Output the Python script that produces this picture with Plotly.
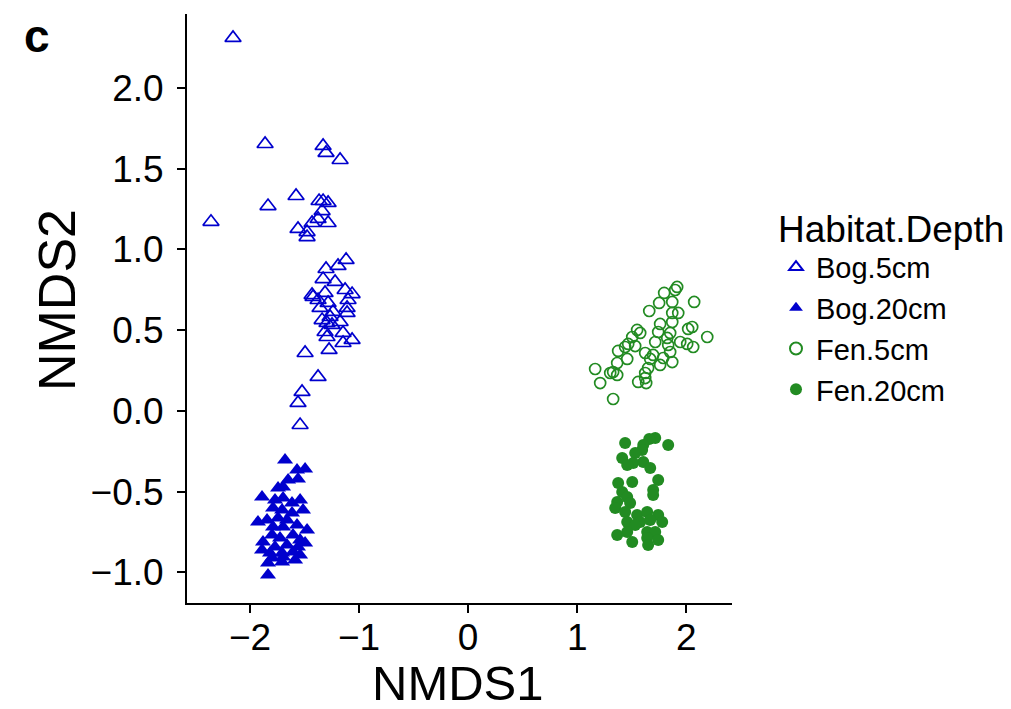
import plotly.graph_objects as go

# Bog.5cm
bog5_x = [-2.156, -2.358, -1.862, -1.835, -1.330, -1.303, -1.174, -1.578, -1.367, -1.330, -1.284, -1.339,
          -1.376, -1.284, -1.431, -1.560, -1.477, -1.477, -1.119, -1.193, -1.303, -1.330, -1.312, -1.422,
          -1.431, -1.064, -1.284, -1.358, -1.110, -1.110, -1.266, -1.339, -1.174, -1.294, -1.248, -1.312,
          -1.147, -1.064, -1.147, -1.294, -1.275, -1.495, -1.376, -1.523, -1.560, -1.541,
          -1.220, -1.376, -1.128, -1.239, -1.101]
bog5_y = [2.310, 1.171, 1.653, 1.269, 1.641, 1.598, 1.554, 1.331, 1.300, 1.300, 1.288, 1.238,
          1.189, 1.164, 1.164, 1.127, 1.108, 1.077, 0.935, 0.898, 0.879, 0.817, 0.731, 0.706,
          0.718, 0.724, 0.669, 0.638, 0.638, 0.607, 0.582, 0.563, 0.551, 0.545, 0.533, 0.489,
          0.483, 0.440, 0.421, 0.458, 0.378, 0.359, 0.211, 0.118, 0.050, -0.087,
          0.799, 0.687, 0.749, 0.613, 0.687]

# Bog.20cm
bog20_x = [-1.679, -1.569, -1.495, -1.651, -1.560, -1.743, -1.697, -1.890, -1.771, -1.697, -1.541, -1.615,
           -1.789, -1.706, -1.514, -1.615, -1.844, -1.927, -1.743, -1.661, -1.569, -1.789, -1.697, -1.477,
           -1.606, -1.798, -1.881, -1.725, -1.541, -1.890, -1.771, -1.661, -1.560, -1.495, -1.817, -1.706,
           -1.606, -1.798, -1.697, -1.541, -1.587, -1.835, -1.706, -1.835]
bog20_y = [-0.303, -0.365, -0.359, -0.427, -0.421, -0.477, -0.471, -0.533, -0.551, -0.539, -0.551, -0.570,
           -0.601, -0.613, -0.613, -0.632, -0.675, -0.687, -0.663, -0.675, -0.706, -0.718, -0.718, -0.737,
           -0.768, -0.768, -0.811, -0.786, -0.799, -0.861, -0.842, -0.830, -0.842, -0.817, -0.879, -0.879,
           -0.873, -0.910, -0.904, -0.892, -0.923, -0.941, -0.935, -1.015]

# Fen.5cm
fen5_x = [1.917, 1.899, 1.798, 1.872, 1.752, 2.073, 1.661, 1.872, 1.927, 1.872, 1.761, 2.055,
          2.018, 1.550, 1.578, 1.743, 1.853, 2.193, 1.505, 1.826, 1.945, 1.716, 2.009, 1.468,
          1.532, 2.064, 1.835, 1.440, 1.376, 1.624, 1.853, 1.697, 1.459, 1.670, 1.789, 1.367,
          1.872, 1.761, 1.651, 1.165, 1.330, 1.303, 1.624, 1.367, 1.624, 1.560, 1.633, 1.211, 1.330]
fen5_y = [0.768, 0.749, 0.731, 0.675, 0.669, 0.675, 0.619, 0.607, 0.607, 0.551, 0.539, 0.520,
          0.508, 0.502, 0.483, 0.489, 0.483, 0.458, 0.458, 0.452, 0.427, 0.427, 0.415, 0.415,
          0.402, 0.396, 0.409, 0.396, 0.372, 0.359, 0.365, 0.347, 0.322, 0.322, 0.328, 0.297,
          0.303, 0.285, 0.266, 0.260, 0.241, 0.235, 0.235, 0.223, 0.204, 0.180, 0.173, 0.173, 0.074]

# Fen.20cm
fen20_x = [1.716, 1.661, 1.440, 1.835, 1.606, 1.596, 1.532, 1.413, 1.606, 1.514, 1.459, 1.670,
           1.376, 1.505, 1.743, 1.697, 1.413, 1.697, 1.459, 1.367, 1.486, 1.349, 1.440, 1.550,
           1.642, 1.743, 1.459, 1.578, 1.670, 1.780, 1.532, 1.459, 1.642, 1.716, 1.367, 1.642,
           1.743, 1.505, 1.651]
fen20_y = [-0.167, -0.173, -0.198, -0.211, -0.211, -0.241, -0.260, -0.291, -0.316, -0.322, -0.334, -0.353,
           -0.446, -0.440, -0.427, -0.489, -0.502, -0.520, -0.533, -0.563, -0.570, -0.601, -0.625, -0.644,
           -0.625, -0.644, -0.687, -0.687, -0.675, -0.687, -0.706, -0.749, -0.749, -0.749, -0.768, -0.786,
           -0.799, -0.811, -0.830]

x_ticks = [-2, -1, 0, 1, 2]
y_ticks = [-1.0, -0.5, 0.0, 0.5, 1.0, 1.5, 2.0]

BLUE = "#0000CD"
GREEN = "#228B22"

fig = go.Figure()
fig.add_trace(go.Scatter(x=bog5_x, y=bog5_y, mode="markers", name="Bog.5cm",
                         marker=dict(symbol="triangle-up-open", size=14, color=BLUE, line=dict(width=1.7, color=BLUE))))
fig.add_trace(go.Scatter(x=bog20_x, y=bog20_y, mode="markers", name="Bog.20cm",
                         marker=dict(symbol="triangle-up", size=14, color=BLUE, line=dict(width=0))))
fig.add_trace(go.Scatter(x=fen5_x, y=fen5_y, mode="markers", name="Fen.5cm",
                         marker=dict(symbol="circle-open", size=11, color=GREEN, line=dict(width=1.7, color=GREEN))))
fig.add_trace(go.Scatter(x=fen20_x, y=fen20_y, mode="markers", name="Fen.20cm",
                         marker=dict(symbol="circle", size=12, color=GREEN, line=dict(width=0))))

axis_common = dict(showgrid=False, zeroline=False, showline=True, linecolor="black", linewidth=2,
                   ticks="outside", ticklen=8, tickwidth=2, tickcolor="black", automargin=False,
                   tickfont=dict(size=37, color="black"), mirror=False)

fig.update_layout(
    width=1011, height=709,
    margin=dict(l=187, r=279, t=14, b=106, autoexpand=False),
    plot_bgcolor="white", paper_bgcolor="white",
    font=dict(family="Liberation Sans, Arial, sans-serif", color="black"),
    xaxis=dict(range=[-2.578, 2.42], tickvals=x_ticks, ticktext=[str(v).replace("-", "\u2212") for v in x_ticks],
               ticklabelstandoff=-7, **axis_common),
    yaxis=dict(range=[-1.189, 2.458], tickvals=y_ticks,
               ticktext=[f"{v:.1f}".replace("-", "\u2212") for v in y_ticks],
               ticklabelstandoff=6, **axis_common),
    legend=dict(title=dict(text="Habitat.Depth", font=dict(size=37)), font=dict(size=29),
                x=(776 - 187) / 545, y=0.695, xanchor="left", yanchor="top", itemsizing="constant",
                bgcolor="rgba(0,0,0,0)", tracegroupgap=0),
    showlegend=True,
)
# axis titles
fig.add_annotation(text="NMDS1", xref="paper", yref="paper", x=(458 - 187) / 545, y=(603 - 683) / 589,
                   xanchor="center", yanchor="middle", showarrow=False, font=dict(size=49, color="black"))
fig.add_annotation(text="NMDS2", xref="paper", yref="paper", x=(57 - 187) / 545, y=(603 - 300) / 589,
                   xanchor="center", yanchor="middle", textangle=-90, showarrow=False,
                   font=dict(size=52, color="black"))
# panel label
fig.add_annotation(text="<b>c</b>", xref="paper", yref="paper", x=(22 - 187) / 545, y=(603 - 8) / 589,
                   xanchor="left", yanchor="top", showarrow=False, font=dict(size=46, color="black"))

fig.write_html("out.html")
